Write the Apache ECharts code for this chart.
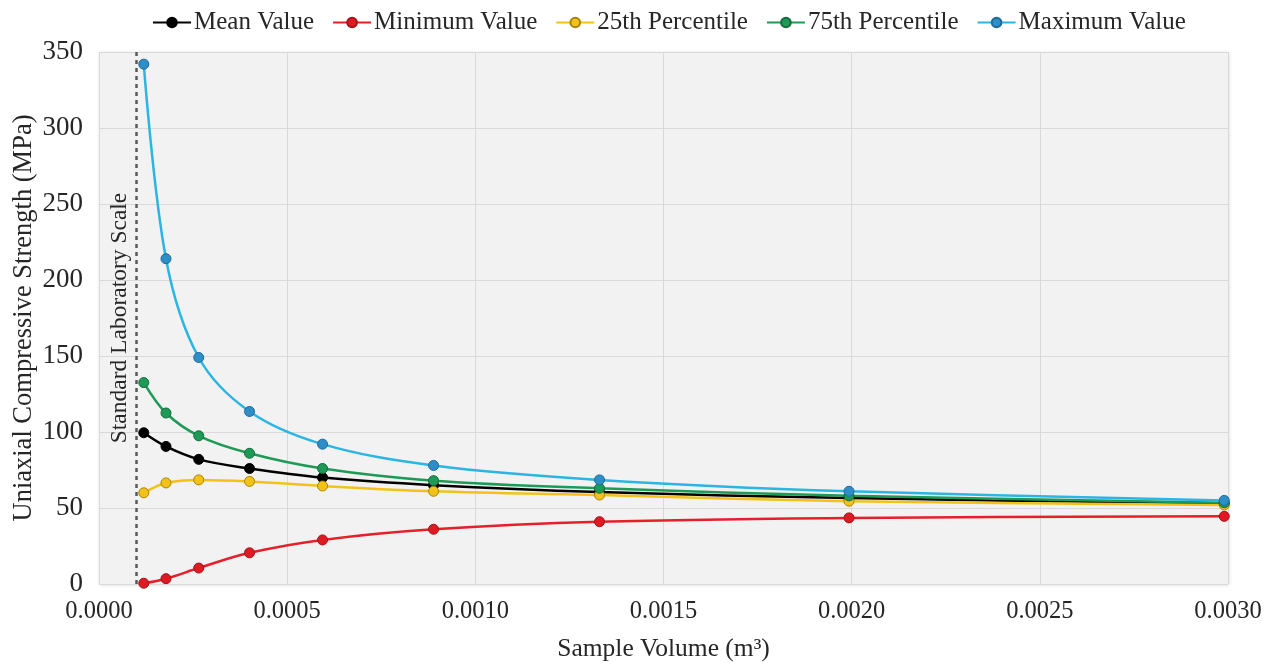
<!DOCTYPE html>
<html>
<head>
<meta charset="utf-8">
<script src="https://cdn.jsdelivr.net/npm/echarts@6/dist/echarts.min.js"></script>
<style>html,body{margin:0;padding:0;background:#fff}#c{width:1273px;height:666px}</style>
</head>
<body>
<div id="c"></div>
<script>
const volumes = [0.000119, 0.000178, 0.000265, 0.0004, 0.000594, 0.000889, 0.00133, 0.001993, 0.00299];
const meanValue = [99.5, 90.5, 82, 76, 70, 65, 60.5, 56.5, 53];
const minValue = [0.5, 3.5, 10.5, 20.5, 29, 36, 41, 43.5, 44.5];
const p25Value = [60, 66.5, 68.5, 67.5, 64.5, 61, 58.5, 54.5, 52];
const p75Value = [132.5, 112.5, 97.5, 86, 76, 68, 63, 58, 53.5];
const maxValue = [342, 214, 149, 113.5, 92, 78, 68.5, 61, 55];
const labScale = 0.0001;
const yRange = [0, 350];

const FONT = '"Liberation Serif", "Times New Roman", serif';
function pairs(ys){ return volumes.map((x,i)=>[x, ys[i]]); }
function mk(name, ys, line, fill, border, extra){
  return Object.assign({
    name, type:'line', data: pairs(ys), smooth: 0.35,
    symbol:'circle', symbolSize: 10,
    lineStyle:{color: line, width: 2.5},
    itemStyle:{color: fill, borderColor: border, borderWidth: 1},
    z: 3
  }, extra||{});
}
const chart = echarts.init(document.getElementById('c'));
chart.setOption({
  animation:false,
  textStyle:{fontFamily: FONT},
  legend:{
    top: 5, left: 147,
    itemWidth: 38, itemHeight: 12, itemGap: 18,
    textStyle:{fontFamily: FONT, fontSize: 25, color:'#262626', padding:[0,0,0,-2]},
    data:['Mean Value','Minimum Value','25th Percentile','75th Percentile','Maximum Value']
  },
  grid:{left:99, right:45, top:52, bottom:82, show:true, backgroundColor:'#F2F2F2', borderWidth:0,
        outerBoundsMode:'none', containLabel:false,
        shadowColor:'rgba(0,0,0,0.15)', shadowBlur:4, shadowOffsetX:1, shadowOffsetY:1},
  xAxis:{
    type:'value', min:0, max:0.003, interval:0.0005,
    name:'Sample Volume (m³)', nameLocation:'middle', nameGap:52, nameMoveOverlap:false,
    nameTextStyle:{fontFamily:FONT, fontSize:25.5, color:'#262626'},
    axisLine:{show:false}, axisTick:{show:false},
    axisLabel:{fontFamily:FONT, fontSize:24.5, color:'#262626', margin:15, formatter:v=>v.toFixed(4)},
    splitLine:{show:true, lineStyle:{color:'#D9D9D9', width:1}}
  },
  yAxis:{
    type:'value', min:yRange[0], max:yRange[1], interval:50,
    name:'Uniaxial Compressive Strength (MPa)', nameLocation:'middle', nameGap:61, nameMoveOverlap:false,
    nameTextStyle:{fontFamily:FONT, fontSize:26.5, color:'#262626'},
    axisLine:{show:false}, axisTick:{show:false},
    axisLabel:{fontFamily:FONT, fontSize:27, color:'#262626', margin:16},
    splitLine:{show:true, lineStyle:{color:'#D9D9D9', width:1}}
  },
  series:[
    mk('Mean Value', meanValue, '#000000', '#000000', '#000000', {
      markLine:{
        silent:true, symbol:['none','none'],
        lineStyle:{type:[4,4], color:'#595959', width:2.5},
        label:{show:true, position:'insideMiddleTop', formatter:'Standard Laboratory Scale',
               fontFamily:FONT, fontSize:23.5, color:'#262626', distance:5},
        data:[[{coord:[labScale, yRange[0]]}, {coord:[labScale, yRange[1]]}]]
      }
    }),
    mk('Minimum Value', minValue, '#E5202A', '#E01A22', '#A31218'),
    mk('25th Percentile', p25Value, '#F2C21A', '#F2C21A', '#A88400'),
    mk('75th Percentile', p75Value, '#1E9A57', '#1E9A57', '#146B3C'),
    mk('Maximum Value', maxValue, '#2BB5E3', '#2E8FC8', '#1D6A99')
  ]
});
</script>
</body>
</html>
